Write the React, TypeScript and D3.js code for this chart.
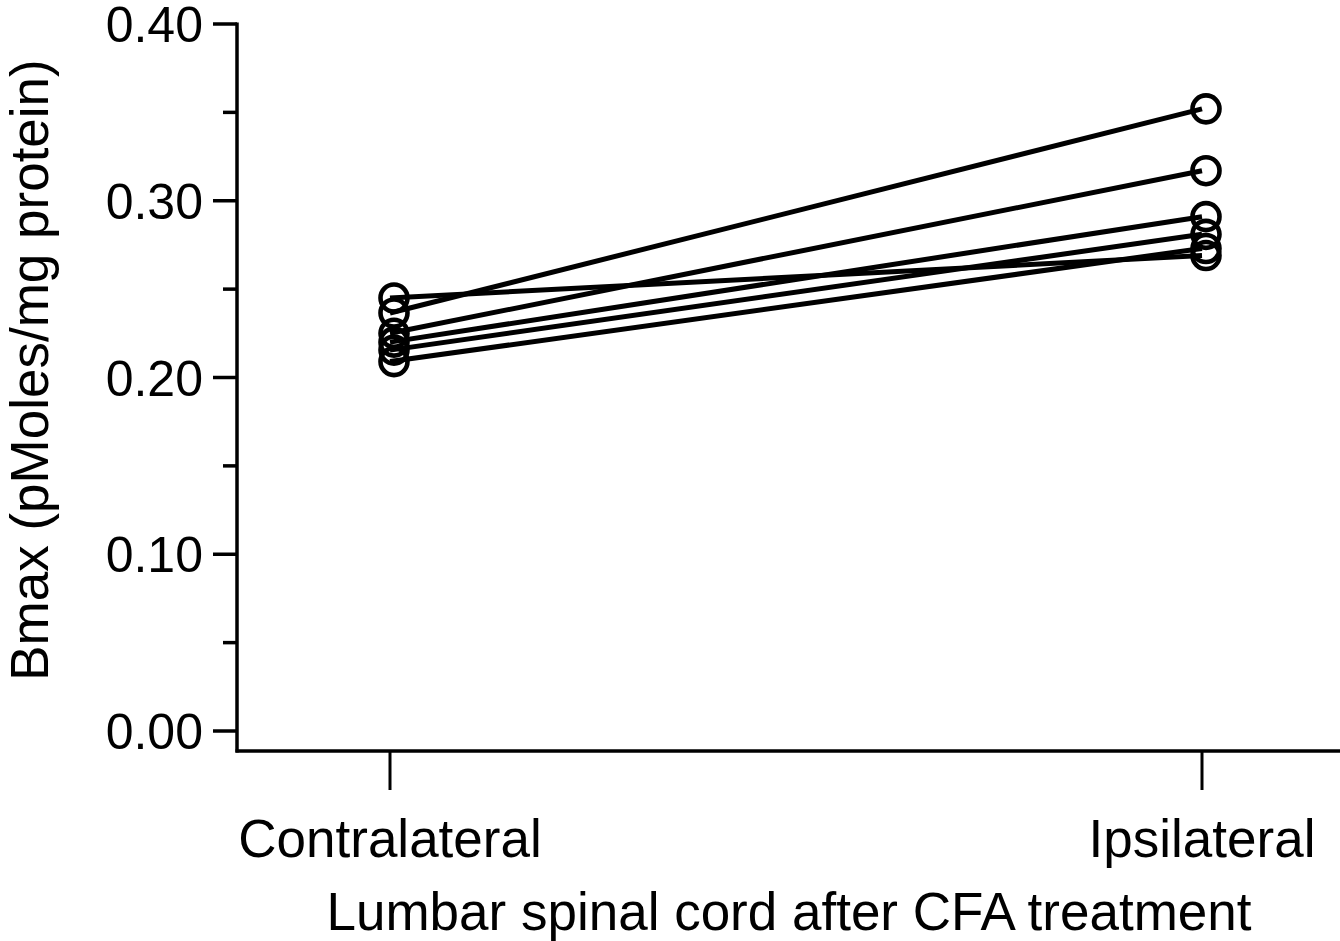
import React from "react";
import * as d3 from "d3";

// Bmax per animal, paired contralateral vs ipsilateral
const groups = ["Contralateral", "Ipsilateral"];
const contralateral = [0.2365, 0.245, 0.225, 0.22, 0.2155, 0.209];
const ipsilateral = [0.352, 0.269, 0.317, 0.291, 0.281, 0.273];
const majorTicks = [0, 0.1, 0.2, 0.3, 0.4];
const minorTicks = [0.05, 0.15, 0.25, 0.35];

const W = 1340;
const H = 941;
const FONT = "'Liberation Sans', Arial, Helvetica, sans-serif";

export default function App() {
  const y = d3.scaleLinear().domain([0, 0.4]).range([731, 24]);
  const x = d3.scalePoint<string>().domain(groups).range([390, 1202]);
  const axisX = 237;
  const axisY = 751;

  const pairs = contralateral.map((c, i) => [
    [x(groups[0])!, y(c)],
    [x(groups[1])!, y(ipsilateral[i])],
  ] as [number, number][]);
  const line = d3.line<[number, number]>();

  return (
    <svg
      width={W}
      height={H}
      style={{ position: "absolute", left: 0, top: 0, background: "#fff" }}
      fontFamily={FONT}
    >
      {/* axes */}
      <line x1={axisX} x2={axisX} y1={y(0.4) - 1.5} y2={axisY + 1.5} stroke="#000" strokeWidth={3.5} />
      <line x1={axisX - 1.5} x2={W} y1={axisY} y2={axisY} stroke="#000" strokeWidth={3.5} />
      {majorTicks.map((t) => (
        <g key={"M" + t}>
          <line x1={213} x2={axisX} y1={y(t)} y2={y(t)} stroke="#000" strokeWidth={3.5} />
          <text x={203} y={y(t) + 18} fontSize={50} textAnchor="end">
            {d3.format(".2f")(t)}
          </text>
        </g>
      ))}
      {minorTicks.map((t) => (
        <line key={"m" + t} x1={223} x2={axisX} y1={y(t)} y2={y(t)} stroke="#000" strokeWidth={3.5} />
      ))}
      {groups.map((g) => (
        <g key={g}>
          <line x1={x(g)} x2={x(g)} y1={axisY} y2={790} stroke="#000" strokeWidth={3} />
          <text x={x(g)} y={857} fontSize={53} textAnchor="middle">
            {g}
          </text>
        </g>
      ))}
      <text x={789} y={930} fontSize={53} textAnchor="middle">
        Lumbar spinal cord after CFA treatment
      </text>
      <text
        transform={`translate(48,370) rotate(-90)`}
        fontSize={53}
        textAnchor="middle"
      >
        Bmax (pMoles/mg protein)
      </text>

      {/* paired lines */}
      {pairs.map((p, i) => (
        <path key={"l" + i} d={line(p)!} stroke="#000" strokeWidth={5} fill="none" />
      ))}
      {/* markers */}
      {pairs.flatMap((p, i) =>
        p.map(([cx, cy], j) => (
          <circle key={`c${i}-${j}`} cx={cx + 4} cy={cy} r={13.5} fill="none" stroke="#000" strokeWidth={4.6} />
        ))
      )}
    </svg>
  );
}
